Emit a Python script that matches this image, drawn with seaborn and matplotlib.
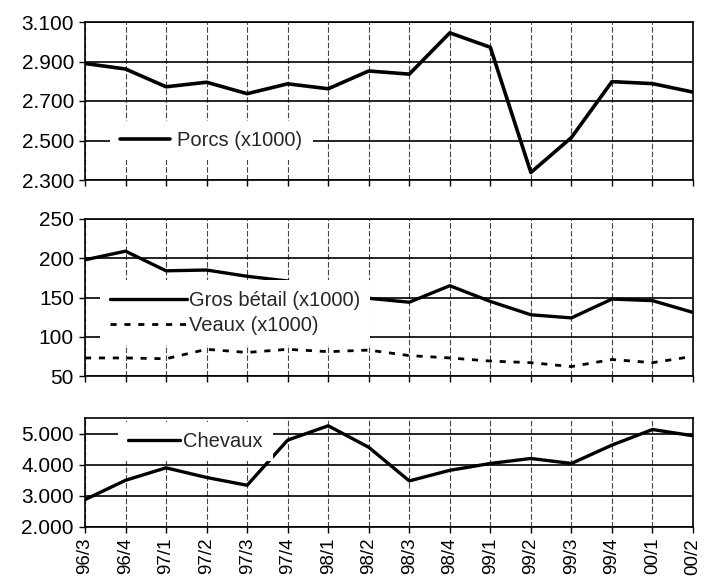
import matplotlib
matplotlib.use('Agg')
import matplotlib.pyplot as plt
import seaborn as sns
import pandas as pd

# ---- data ----
periods = ['96/3', '96/4', '97/1', '97/2', '97/3', '97/4', '98/1', '98/2',
           '98/3', '98/4', '99/1', '99/2', '99/3', '99/4', '00/1', '00/2']
porcs = [2890, 2862, 2772, 2795, 2737, 2787, 2762, 2852,
         2836, 3045, 2972, 2338, 2515, 2798, 2788, 2745]
gros_betail = [198, 209, 184, 185, 177, 171, 155, 149,
               144, 165, 145, 128, 124, 148, 146, 131]
veaux = [73, 73, 72, 84, 80, 84, 81, 83,
         76, 73, 69, 67, 62, 71, 67, 75]
chevaux = [2880, 3500, 3900, 3590, 3340, 4790, 5250, 4560,
           3480, 3820, 4040, 4200, 4040, 4630, 5130, 4930]

y1_ticks = [2300, 2500, 2700, 2900, 3100]
y1_labels = ['2.300', '2.500', '2.700', '2.900', '3.100']
y2_ticks = [50, 100, 150, 200, 250]
y2_labels = ['50', '100', '150', '200', '250']
y3_ticks = [2000, 3000, 4000, 5000]
y3_labels = ['2.000', '3.000', '4.000', '5.000']

df = pd.DataFrame({'periode': periods, 'porcs': porcs, 'gros': gros_betail,
                   'veaux': veaux, 'chevaux': chevaux})

sns.set_style('white')
plt.rcParams['font.family'] = ['Liberation Sans', 'DejaVu Sans']

W, H = 718, 580
fig = plt.figure(figsize=(W / 100, H / 100), dpi=100)


def box(l, t, r, b):
    return [l / W, 1 - b / H, (r - l) / W, (b - t) / H]


ax1 = fig.add_axes(box(85, 22, 693, 180))
ax2 = fig.add_axes(box(85, 219, 693, 376))
ax3 = fig.add_axes(box(85, 418, 693, 527))

sns.lineplot(data=df, x='periode', y='porcs', ax=ax1, color='black', lw=2.6,
             label='Porcs (x1000)', sort=False)
sns.lineplot(data=df, x='periode', y='gros', ax=ax2, color='black', lw=2.4,
             label='Gros bétail (x1000)', sort=False)
sns.lineplot(data=df, x='periode', y='veaux', ax=ax2, color='black', lw=2.0,
             linestyle=(0, (2.2, 2.8)), label='Veaux (x1000)', sort=False)
sns.lineplot(data=df, x='periode', y='chevaux', ax=ax3, color='black', lw=2.4,
             label='Chevaux', sort=False)

FS = 15
for ax, ticks, labels, lim in [(ax1, y1_ticks, y1_labels, (2300, 3100)),
                               (ax2, y2_ticks, y2_labels, (50, 250)),
                               (ax3, y3_ticks, y3_labels, (2000, 5500))]:
    ax.set_xlim(0, len(periods) - 1)
    ax.set_ylim(*lim)
    ax.set_yticks(ticks)
    ax.set_yticklabels(labels)
    ax.set_xticks(range(len(periods)))
    ax.set_xlabel('')
    ax.set_ylabel('')
    ax.grid(axis='y', color='black', lw=1.2)
    ax.grid(axis='x', color='#444444', lw=0.8, ls=(0, (5, 2)))
    ax.set_axisbelow(True)
    ax.tick_params(axis='y', direction='out', length=4, width=1, left=True,
                   color='black', labelsize=FS, pad=4.0, labelcolor='black')
    ax.tick_params(axis='x', direction='out', length=4.3, width=1, bottom=True,
                   color='black', labelsize=13.5, pad=3.5, labelcolor='black')
    for s in ax.spines.values():
        s.set_color('black')
        s.set_linewidth(1.2)

ax1.set_xticklabels([])
ax2.set_xticklabels([])
ax3.set_xticklabels(periods, rotation=90)

common = dict(frameon=True, fancybox=False, facecolor='white', edgecolor='none',
              framealpha=1, fontsize=14.5, borderaxespad=0, borderpad=0.5,
              loc='center left')
ax1.legend(bbox_to_anchor=(0.041, 0.25), handlelength=2.5, handletextpad=0.35, **common)
ax2.legend(bbox_to_anchor=(0.025, 0.404), handlelength=3.8, handletextpad=0.1,
           labelspacing=0.3, **common)
ax3.legend(bbox_to_anchor=(0.054, 0.785), handlelength=2.6, handletextpad=0.15, **common)

fig.savefig('out.png', dpi=100)
